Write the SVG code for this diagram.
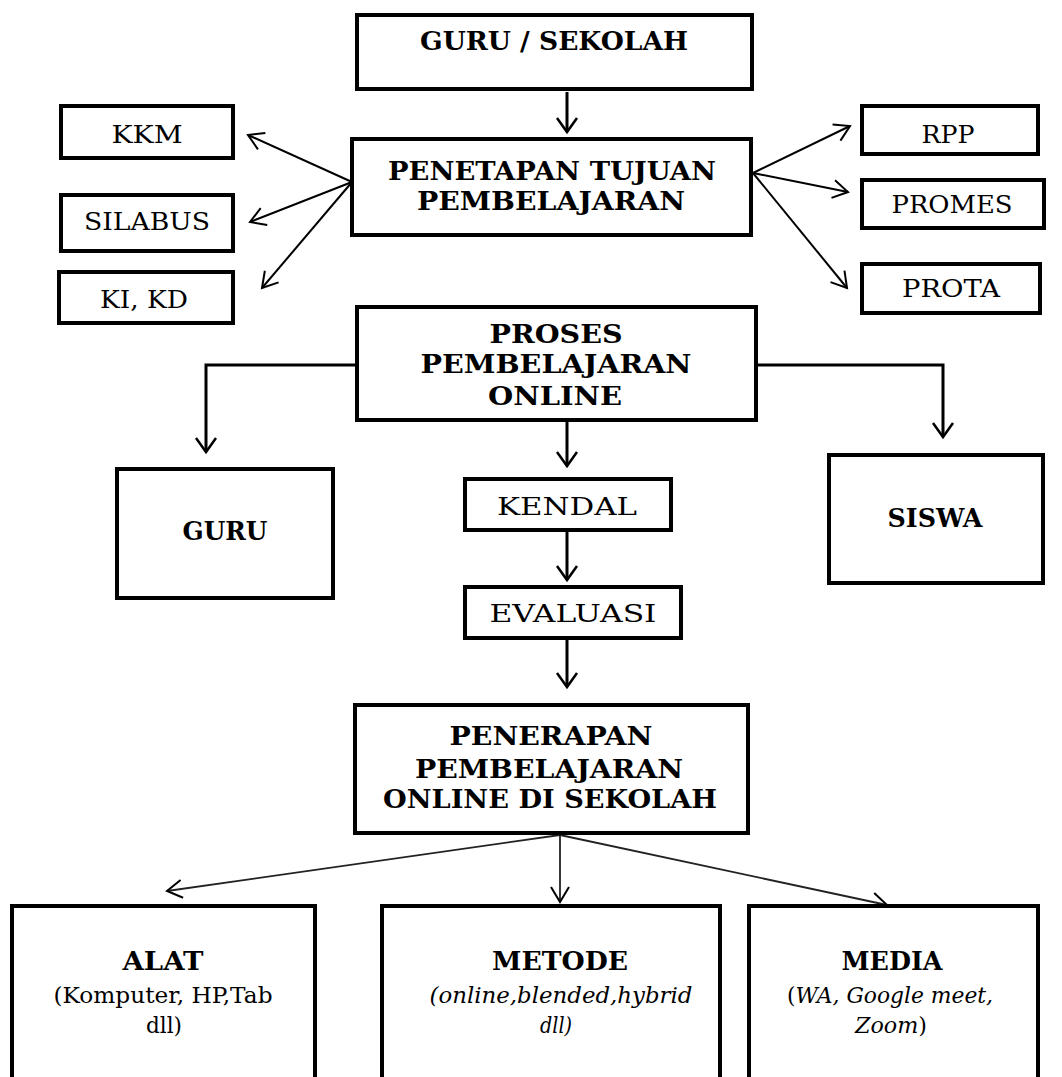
<svg xmlns="http://www.w3.org/2000/svg" width="1062" height="1077" viewBox="0 0 1062 1077">
<style>
  .box { fill: #ffffff; stroke: #000000; stroke-width: 4; }
  .t { font-family: "DejaVu Serif", "Liberation Serif", serif; font-size: 25px; fill: #000000; text-anchor: middle; }
  .b { font-weight: bold; font-size: 26px; }
  .i { font-style: italic; }
  .s { font-size: 22px; }
  .c3 { fill: none; stroke: #000000; stroke-width: 3; }
  .c2 { fill: none; stroke: #000000; stroke-width: 2; }
  .c1 { fill: none; stroke: #222222; stroke-width: 1.8; }
</style>
<defs>
  <marker id="ah" markerUnits="userSpaceOnUse" markerWidth="30" markerHeight="30" refX="0" refY="0" viewBox="-20 -15 25 30" orient="auto">
    <path d="M-14,-10 L0,0 L-14,10" fill="none" stroke="#000000" stroke-width="2.5"/>
  </marker>
  <marker id="ahs" markerUnits="userSpaceOnUse" markerWidth="30" markerHeight="30" refX="0" refY="0" viewBox="-20 -15 25 30" orient="auto">
    <path d="M-15,-9 L0,0 L-15,9" fill="none" stroke="#000000" stroke-width="2"/>
  </marker>
</defs>
<rect width="1062" height="1077" fill="#ffffff"/>

<g id="connectors">
  <line class="c3" x1="567" y1="92" x2="567" y2="132" marker-end="url(#ah)"/>
  <line class="c2" x1="352" y1="182" x2="248" y2="135" marker-end="url(#ahs)"/>
  <line class="c2" x1="352" y1="182" x2="250" y2="222" marker-end="url(#ahs)"/>
  <line class="c2" x1="352" y1="182" x2="262" y2="288" marker-end="url(#ahs)"/>
  <line class="c2" x1="753" y1="173" x2="850" y2="126" marker-end="url(#ahs)"/>
  <line class="c2" x1="753" y1="173" x2="848" y2="192" marker-end="url(#ahs)"/>
  <line class="c2" x1="753" y1="173" x2="847" y2="288" marker-end="url(#ahs)"/>
  <polyline class="c3" points="357,365 206,365 206,452" marker-end="url(#ah)"/>
  <polyline class="c3" points="756,365 943,365 943,437" marker-end="url(#ah)"/>
  <line class="c3" x1="567" y1="422" x2="567" y2="466" marker-end="url(#ah)"/>
  <line class="c3" x1="567" y1="532" x2="567" y2="580" marker-end="url(#ah)"/>
  <line class="c3" x1="567" y1="640" x2="567" y2="687" marker-end="url(#ah)"/>
  <line class="c1" x1="560" y1="835" x2="167" y2="891" marker-end="url(#ahs)"/>
  <line class="c1" x1="560" y1="835" x2="560" y2="902" marker-end="url(#ahs)"/>
  <line class="c1" x1="560" y1="835" x2="887" y2="905" marker-end="url(#ahs)"/>
</g>

<g id="guru-sekolah">
  <rect class="box" x="357" y="15" width="395" height="74"/>
  <text class="t b" x="554" y="50" textLength="268" lengthAdjust="spacingAndGlyphs">GURU / SEKOLAH</text>
</g>

<g id="penetapan">
  <rect class="box" x="352" y="139" width="399" height="96"/>
  <text class="t b" x="552" y="180" textLength="328" lengthAdjust="spacingAndGlyphs">PENETAPAN TUJUAN</text>
  <text class="t b" x="551" y="210" textLength="268" lengthAdjust="spacingAndGlyphs">PEMBELAJARAN</text>
</g>

<g id="kkm">
  <rect class="box" x="61" y="106" width="172" height="52"/>
  <text class="t" x="147" y="143" textLength="71" lengthAdjust="spacingAndGlyphs">KKM</text>
</g>
<g id="silabus">
  <rect class="box" x="61" y="195" width="172" height="56"/>
  <text class="t" x="147" y="230" textLength="126" lengthAdjust="spacingAndGlyphs">SILABUS</text>
</g>
<g id="ki-kd">
  <rect class="box" x="59" y="272" width="174" height="51"/>
  <text class="t" x="144" y="308" textLength="88" lengthAdjust="spacingAndGlyphs">KI, KD</text>
</g>

<g id="rpp">
  <rect class="box" x="862" y="106" width="176" height="48"/>
  <text class="t" x="948" y="143" textLength="53" lengthAdjust="spacingAndGlyphs">RPP</text>
</g>
<g id="promes">
  <rect class="box" x="862" y="180" width="182" height="48"/>
  <text class="t" x="952" y="213" textLength="121" lengthAdjust="spacingAndGlyphs">PROMES</text>
</g>
<g id="prota">
  <rect class="box" x="862" y="264" width="178" height="49"/>
  <text class="t" x="951" y="297" textLength="98" lengthAdjust="spacingAndGlyphs">PROTA</text>
</g>

<g id="proses">
  <rect class="box" x="357" y="307" width="399" height="113"/>
  <text class="t b" x="556" y="343" textLength="133" lengthAdjust="spacingAndGlyphs">PROSES</text>
  <text class="t b" x="556" y="373" textLength="271" lengthAdjust="spacingAndGlyphs">PEMBELAJARAN</text>
  <text class="t b" x="555" y="405" textLength="134" lengthAdjust="spacingAndGlyphs">ONLINE</text>
</g>

<g id="guru">
  <rect class="box" x="117" y="469" width="216" height="129"/>
  <text class="t b" x="225" y="540" textLength="85" lengthAdjust="spacingAndGlyphs">GURU</text>
</g>

<g id="siswa">
  <rect class="box" x="829" y="455" width="214" height="128"/>
  <text class="t b" x="935" y="527" textLength="95" lengthAdjust="spacingAndGlyphs">SISWA</text>
</g>

<g id="kendal">
  <rect class="box" x="465" y="479" width="206" height="51"/>
  <text class="t" x="567" y="515" textLength="140" lengthAdjust="spacingAndGlyphs">KENDAL</text>
</g>

<g id="evaluasi">
  <rect class="box" x="465" y="587" width="216" height="51"/>
  <text class="t" x="573" y="622" textLength="167" lengthAdjust="spacingAndGlyphs">EVALUASI</text>
</g>

<g id="penerapan">
  <rect class="box" x="355" y="705" width="393" height="128"/>
  <text class="t b" x="551" y="745" textLength="203" lengthAdjust="spacingAndGlyphs">PENERAPAN</text>
  <text class="t b" x="549" y="778" textLength="268" lengthAdjust="spacingAndGlyphs">PEMBELAJARAN</text>
  <text class="t b" x="550" y="808" textLength="334" lengthAdjust="spacingAndGlyphs">ONLINE DI SEKOLAH</text>
</g>

<g id="alat">
  <rect class="box" x="12" y="906" width="303" height="200"/>
  <text class="t b" x="163" y="970" textLength="81" lengthAdjust="spacingAndGlyphs">ALAT</text>
  <text class="t s" x="163" y="1003" textLength="219" lengthAdjust="spacingAndGlyphs">(Komputer, HP,Tab</text>
  <text class="t s" x="164" y="1033" textLength="36" lengthAdjust="spacingAndGlyphs">dll)</text>
</g>

<g id="metode">
  <rect class="box" x="382" y="906" width="338" height="200"/>
  <text class="t b" x="560" y="970" textLength="136" lengthAdjust="spacingAndGlyphs">METODE</text>
  <text class="t i s" x="561" y="1003" textLength="263" lengthAdjust="spacingAndGlyphs">(online,blended,hybrid</text>
  <text class="t i s" x="556" y="1033" textLength="32" lengthAdjust="spacingAndGlyphs">dll)</text>
</g>

<g id="media">
  <rect class="box" x="749" y="906" width="289" height="200"/>
  <text class="t b" x="892" y="970" textLength="101" lengthAdjust="spacingAndGlyphs">MEDIA</text>
  <text class="t s" x="890" y="1003" textLength="206" lengthAdjust="spacingAndGlyphs">(<tspan class="i">WA, Google meet,</tspan></text>
  <text class="t s" x="891" y="1033" textLength="72" lengthAdjust="spacingAndGlyphs"><tspan class="i">Zoom</tspan>)</text>
</g>
</svg>
